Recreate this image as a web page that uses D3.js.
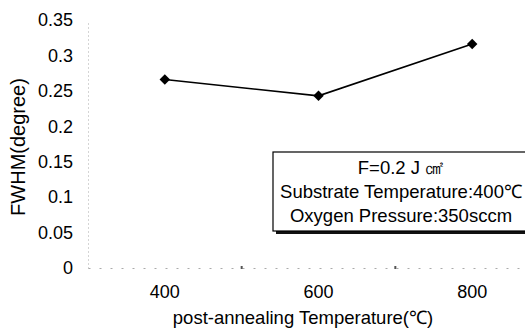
<!DOCTYPE html>
<html>
<head>
<meta charset="utf-8">
<script src="https://cdn.jsdelivr.net/npm/d3@7"></script>
<style>
  body { margin: 0; background: #fff; }
  svg { display: block; font-family: "Liberation Sans", Arial, sans-serif; }
</style>
</head>
<body>
<div id="chart"></div>
<script>
// data
const temps = [400, 600, 800];
const fwhm = [0.266, 0.243, 0.316];
const yTicks = [0, 0.05, 0.1, 0.15, 0.2, 0.25, 0.3, 0.35];
const legendLines = ['F=0.2 J ㎠', 'Substrate Temperature:400℃', 'Oxygen Pressure:350sccm'];

const width = 525, height = 330;
const margin = { top: 20, left: 88, bottom: 62 };
const plotRight = 549;

const svg = d3.select('#chart').append('svg')
  .attr('width', width)
  .attr('height', height);

const x = d3.scaleBand()
  .domain(temps)
  .range([margin.left, plotRight]);

const y = d3.scaleLinear()
  .domain([0, 0.35])
  .range([height - margin.bottom, margin.top]);

// y axis (faint, dotted like the scan)
const yAxis = svg.append('g')
  .attr('transform', `translate(${margin.left},0)`)
  .call(d3.axisLeft(y).tickValues(yTicks).tickFormat(d3.format('~g')).tickSize(0).tickPadding(15));
yAxis.select('.domain')
  .attr('stroke', '#aaa')
  .attr('stroke-dasharray', '1,3');
yAxis.selectAll('text')
  .style('font-size', '18px')
  .attr('fill', '#000');

// x axis
const xAxis = svg.append('g')
  .attr('transform', `translate(0,${y(0)})`)
  .call(d3.axisBottom(x).tickSize(0).tickPadding(17));
xAxis.select('.domain')
  .attr('stroke', '#aaa')
  .attr('stroke-dasharray', '2,9');
xAxis.selectAll('text')
  .style('font-size', '18px')
  .attr('fill', '#000');

// category boundary ticks
xAxis.selectAll('.bound')
  .data(temps.slice(1))
  .join('line')
  .attr('class', 'bound')
  .attr('x1', d => x(d)).attr('x2', d => x(d))
  .attr('y1', -2).attr('y2', 1)
  .attr('stroke', '#555')
  .attr('stroke-width', 2);

// axis titles
svg.append('text')
  .attr('transform', 'translate(25,147) rotate(-90)')
  .attr('text-anchor', 'middle')
  .style('font-size', '20px')
  .attr('fill', '#000')
  .text('FWHM(degree)');

svg.append('text')
  .attr('x', 303)
  .attr('y', 324)
  .attr('text-anchor', 'middle')
  .style('font-size', '18.5px')
  .attr('fill', '#000')
  .text('post-annealing Temperature(℃)');

// series
const cx = d => x(d) + x.bandwidth() / 2;
const pts = temps.map((t, i) => ({ t, v: fwhm[i] }));

svg.append('path')
  .datum(pts)
  .attr('fill', 'none')
  .attr('stroke', '#000')
  .attr('stroke-width', 1.6)
  .attr('d', d3.line().x(d => cx(d.t)).y(d => y(d.v)));

svg.selectAll('.pt')
  .data(pts)
  .join('path')
  .attr('class', 'pt')
  .attr('transform', d => `translate(${cx(d.t)},${y(d.v)})`)
  .attr('d', d3.symbol(d3.symbolDiamond2, 70))
  .attr('fill', '#000');

// legend box
const box = { x: 273, y: 152, w: 256, h: 79 };
svg.append('rect')
  .attr('x', box.x + 3).attr('y', box.y + 3)
  .attr('width', box.w).attr('height', box.h)
  .attr('fill', '#111');
svg.append('rect')
  .attr('x', box.x).attr('y', box.y)
  .attr('width', box.w).attr('height', box.h)
  .attr('fill', '#fff')
  .attr('stroke', '#000')
  .attr('stroke-width', 1.2);

svg.selectAll('.leg')
  .data(legendLines)
  .join('text')
  .attr('class', 'leg')
  .attr('x', box.x + box.w / 2)
  .attr('y', (d, i) => box.y + 22 + i * 24)
  .attr('text-anchor', 'middle')
  .style('font-size', '18.5px')
  .attr('fill', '#000')
  .text(d => d);
</script>
</body>
</html>
